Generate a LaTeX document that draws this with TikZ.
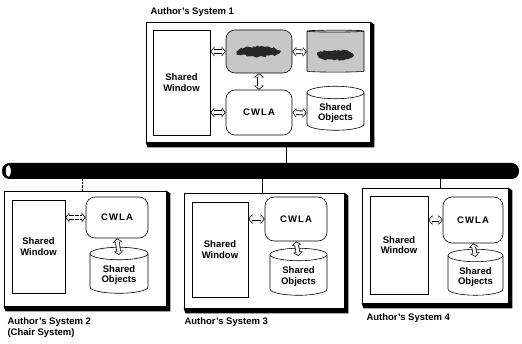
\documentclass[tikz,border=0pt]{standalone}
\usepackage{fontspec}
\setmainfont{Liberation Sans}
\usetikzlibrary{shapes.geometric,arrows.meta,decorations.pathmorphing}

\begin{document}
\begin{tikzpicture}[x=1pt, y=1pt,
  font=\bfseries\fontsize{9.5}{10.5}\selectfont,
  system/.style={draw, line width=0.8pt, fill=white},
  window/.style={draw, line width=0.6pt, align=center},
  agent/.style={draw, line width=0.6pt, rounded corners=9, font=\bfseries\fontsize{9.5}{10.5}\selectfont\addfontfeature{LetterSpace=12}},
  store/.style={draw, line width=0.6pt, cylinder, shape border rotate=90, aspect=0.3, align=center, fill=white},
  link/.style={line width=4.6pt, {Triangle[length=4pt,width=9.5pt]}-{Triangle[length=4pt,width=9.5pt]},
    postaction={draw, white, line width=3pt, shorten <=1.1pt, shorten >=1.1pt, solid,
      {Triangle[length=2.5pt,width=6.6pt]}-{Triangle[length=2.5pt,width=6.6pt]}}},
  caption/.style={font=\bfseries\fontsize{9.5}{11}\selectfont, align=left}]
\useasboundingbox (0,0) rectangle (522,343);

% the four systems
\node[name=sys_1, system, minimum width=224, minimum height=120] at (258,261) {};
\node[name=sys_2, system, minimum width=162, minimum height=115] at (85,94.5) {};
\node[name=sys_3, system, minimum width=160, minimum height=115] at (264,92.5) {};
\node[name=sys_4, system, minimum width=146, minimum height=115] at (435,97.5) {};

\fill (sys_1.south west) -- ++(2,-5) -- ([shift={(4,-5)}]sys_1.south east) -- ([shift={(4,-3)}]sys_1.north east) -- (sys_1.north east) -- (sys_1.south east) -- cycle;
\fill (sys_2.south west) -- ++(2,-5) -- ([shift={(4,-5)}]sys_2.south east) -- ([shift={(4,-3)}]sys_2.north east) -- (sys_2.north east) -- (sys_2.south east) -- cycle;
\fill (sys_3.south west) -- ++(2,-5) -- ([shift={(4,-5)}]sys_3.south east) -- ([shift={(4,-3)}]sys_3.north east) -- (sys_3.north east) -- (sys_3.south east) -- cycle;
\fill (sys_4.south west) -- ++(2,-5) -- ([shift={(4,-5)}]sys_4.south east) -- ([shift={(4,-3)}]sys_4.north east) -- (sys_4.north east) -- (sys_4.south east) -- cycle;

\node[name=lbl_1, caption, anchor=west] at (147,331) {Author's System 1};
\node[name=lbl_2, caption, anchor=north west] at (4,29) {Author's System 2\\(Chair System)};
\node[name=lbl_3, caption, anchor=west] at (181,21) {Author's System 3};
\node[name=lbl_4, caption, anchor=west] at (363,25) {Author's System 4};

% system 1
\node[name=window_1, window, minimum width=57, minimum height=105] at (181.5,260.5) {Shared\\Window};
\node[name=tool_1, agent, fill=black!22, minimum width=66, minimum height=43] at (259,291.5) {};
\node[name=store_1, store, fill=black!22, minimum width=57, minimum height=42] at (335.5,291) {};
\node[name=cwla_1, agent, minimum width=66, minimum height=45] at (259,230.5) {CWLA};
\node[name=objects_1, store, minimum width=57, minimum height=44] at (335.5,230) {Shared\\Objects};
\fill[black!85, decorate, decoration={random steps, segment length=2pt, amplitude=1.2pt}] (tool_1.center) ellipse (22 and 5);
\fill[black!85, decorate, decoration={random steps, segment length=2pt, amplitude=1.2pt}] ([yshift=-3]store_1.center) ellipse (18 and 5);

\draw[link] (window_1.east |- tool_1.west) -- (tool_1.west);
\draw[link] (window_1.east |- cwla_1.west) -- (cwla_1.west);
\draw[link] (tool_1.east) -- (store_1.west);
\draw[link] (cwla_1.east) -- (objects_1.west);
\draw[link] (tool_1.south) -- (cwla_1.north);

% system 2
\node[name=window_2, window, minimum width=53, minimum height=93] at (38.5,96.5) {Shared\\Window};
\node[name=cwla_2, agent, minimum width=62, minimum height=41] at (117,125.5) {CWLA};
\node[name=objects_2, store, minimum width=58, minimum height=46] at (119,68) {Shared\\Objects};
\draw[link, densely dotted] (window_2.east |- cwla_2.west) -- (cwla_2.west);
\draw[link] (cwla_2.south) -- ([yshift=-8]objects_2.north);

% system 3
\node[name=window_3, window, minimum width=56, minimum height=95] at (220,93.5) {Shared\\Window};
\node[name=cwla_3, agent, minimum width=62, minimum height=44] at (296,124) {CWLA};
\node[name=objects_3, store, minimum width=57, minimum height=47] at (298.5,66.5) {Shared\\Objects};
\draw[link] (window_3.east |- cwla_3.west) -- (cwla_3.west);
\draw[link] (cwla_3.south) -- ([yshift=-8]objects_3.north);

% system 4
\node[name=window_4, window, minimum width=58, minimum height=98] at (399,98) {Shared\\Window};
\node[name=cwla_4, agent, minimum width=60, minimum height=46] at (473,123) {CWLA};
\node[name=objects_4, store, minimum width=55, minimum height=46] at (475.5,66) {Shared\\Objects};
\draw[link] (window_4.east |- cwla_4.west) -- (cwla_4.west);
\draw[link] (cwla_4.south) -- ([yshift=-8]objects_4.north);

% network
\node[name=bus, fill=black, inner sep=0, minimum width=517, minimum height=16, rounded corners=7.5] at (260.5,172) {};
\node[name=bus_end, ellipse, draw, line width=0.8pt, fill=white, inner sep=0, minimum width=6, minimum height=13] at ([xshift=6.5]bus.west) {};
\draw ([xshift=28]sys_1.south) -- ([xshift=28]sys_1.south |- bus.north);
\draw[densely dotted] ([xshift=-3]sys_2.north) -- ([xshift=-3]sys_2.north |- bus.south);
\draw ([xshift=-2]sys_3.north) -- ([xshift=-2]sys_3.north |- bus.south);
\draw ([xshift=5]sys_4.north) -- ([xshift=5]sys_4.north |- bus.south);
\end{tikzpicture}
\end{document}
